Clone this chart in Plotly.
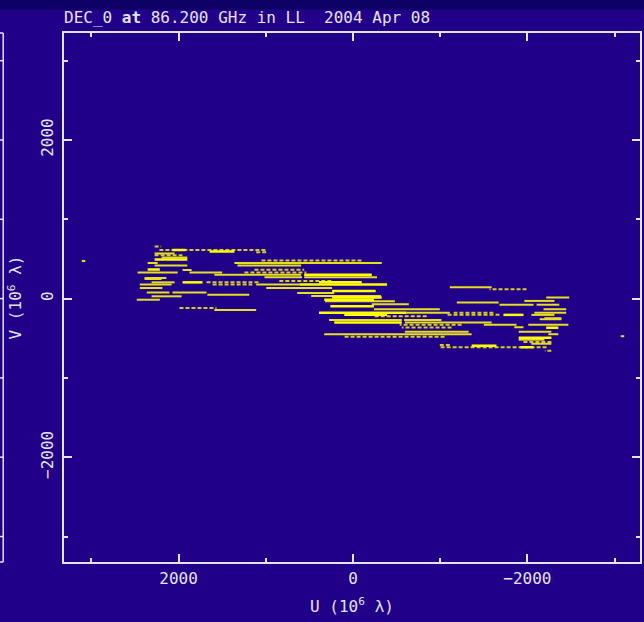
import plotly.graph_objects as go

# uv tracks (one half; the conjugate half is plotted as (-u, -v)), units 10^6 lambda
bright_v = [613, 594, 493, 367, 301, 205, 205, 178, 96, 14]
bright_u0 = [2070, 1645, 2275, 2355, 560, 1955, 390, 615, 240, 240]
bright_u1 = [1920, 1360, 1900, 2215, -215, 1725, -100, -390, -260, -330]

plain_v = [569, 518, 449, 449, 417, 417, 361, 329, 329, 301, 269, 269, 247, 260,
           205, 178, 178, 134, 134, 77, 77, 71, 49, 29, 33, -14, -144, 474]
plain_u0 = [2275, 2195, 2355, 1360, 2275, 1325, 1955, 2470, 1875, 1590, 1015, 560, 2390, 2390,
            2310, 2445, 1110, 2445, 995, 2365, 2070, 640, 1670, 2310, 480, 2480, 1590, 3110]
plain_u1 = [2045, 1900, 2240, -330, 1900, 595, 1850, 2010, 1500, 595, 585, -275, 2195, 2140,
            2045, 2080, 615, 2185, 240, 2105, 1680, 215, 1190, 1965, -320, 2215, 1110, 3070]

dotted_v = [657, 613, 546, 480, 329, 222, 205, 178, -119, 585, 365]
dotted_u0 = [2275, 2220, 2275, 1050, 1245, 845, 1680, 1610, 1990, 1110, 1130]
dotted_u1 = [2200, 995, 1955, -100, 535, 240, 1075, 1155, 1565, 980, 560]

x_ticks_major = 2000
x_ticks_minor = 1000

BG = "#210089"
FG = "#e4e4ee"
FONT = "DejaVu Sans Mono"


def segs(v, u0, u1):
    xs, ys = [], []
    for vv, a, b in zip(v, u0, u1):
        xs += [a, b, None, -a, -b, None]
        ys += [vv, vv, None, -vv, -vv, None]
    return xs, ys


fig = go.Figure()
for (v, u0, u1), col, w, dash in [
    ((dotted_v, dotted_u0, dotted_u1), "#d4cc28", 2, "4px,2px"),
    ((plain_v, plain_u0, plain_u1), "#e6de20", 2, "solid"),
    ((bright_v, bright_u0, bright_u1), "#ffff00", 2.5, "solid"),
]:
    xs, ys = segs(v, u0, u1)
    fig.add_trace(go.Scatter(x=xs, y=ys, mode="lines",
                             line=dict(color=col, width=w, dash=dash),
                             hoverinfo="skip"))

axis_common = dict(
    showgrid=False, zeroline=False, showline=True, linecolor=FG, linewidth=1.5,
    mirror="ticks", ticks="inside", ticklen=8, tickwidth=1.5, tickcolor=FG,
    dtick=x_ticks_major, tick0=0, exponentformat="none",
    minor=dict(dtick=x_ticks_minor, ticks="inside", ticklen=4, tickwidth=1.5, tickcolor=FG),
    tickfont=dict(family=FONT, size=16, color=FG),
)

fig.update_layout(
    width=644, height=622,
    margin=dict(l=64, r=2, t=33, b=60),
    paper_bgcolor=BG, plot_bgcolor=BG, showlegend=False,
    font=dict(family=FONT, size=16, color=FG),
    title=dict(text="DEC_0 <b>at</b> 86.200 GHz in LL\u00a0\u00a02004 Apr 08",
               x=64 / 644, xanchor="left", xref="container",
               y=1 - 17 / 622, yanchor="middle", yref="container",
               font=dict(family=FONT, size=16, color=FG)),
    xaxis=dict(range=[3314, -3291],
               title=dict(text="U (10<sup>6</sup> λ)", standoff=14,
                          font=dict(family=FONT, size=16, color=FG)),
               ticklabelstandoff=1, **axis_common),
    yaxis=dict(range=[-3321, 3349], tickangle=-90,
               title=dict(text="V (10<sup>6</sup> λ)", standoff=12,
                          font=dict(family=FONT, size=16, color=FG)),
               ticklabelstandoff=3, **axis_common),
)

# darker strip at top of the window
fig.add_shape(type="rect", xref="paper", yref="paper", x0=-0.12, x1=1.01,
              y0=1.0445, y1=1.07, fillcolor="#0c0064", line_width=0, layer="below")
# right edge of neighbouring panel on the left
xp = (3 - 64) / 578
fig.add_shape(type="line", xref="paper", yref="paper", x0=xp, x1=xp, y0=0, y1=1,
              line=dict(color=FG, width=1.5))
for yp in [0, 1]:
    fig.add_shape(type="line", xref="paper", yref="paper", x0=-0.12, x1=xp, y0=yp, y1=yp,
                  line=dict(color=FG, width=1.5))
for yv in [-3000, -2000, -1000, 0, 1000, 2000, 3000]:
    fig.add_shape(type="line", xref="paper", yref="y", x0=-0.12, x1=xp, y0=yv, y1=yv,
                  line=dict(color=FG, width=1.5))

fig.write_html("out.html")
